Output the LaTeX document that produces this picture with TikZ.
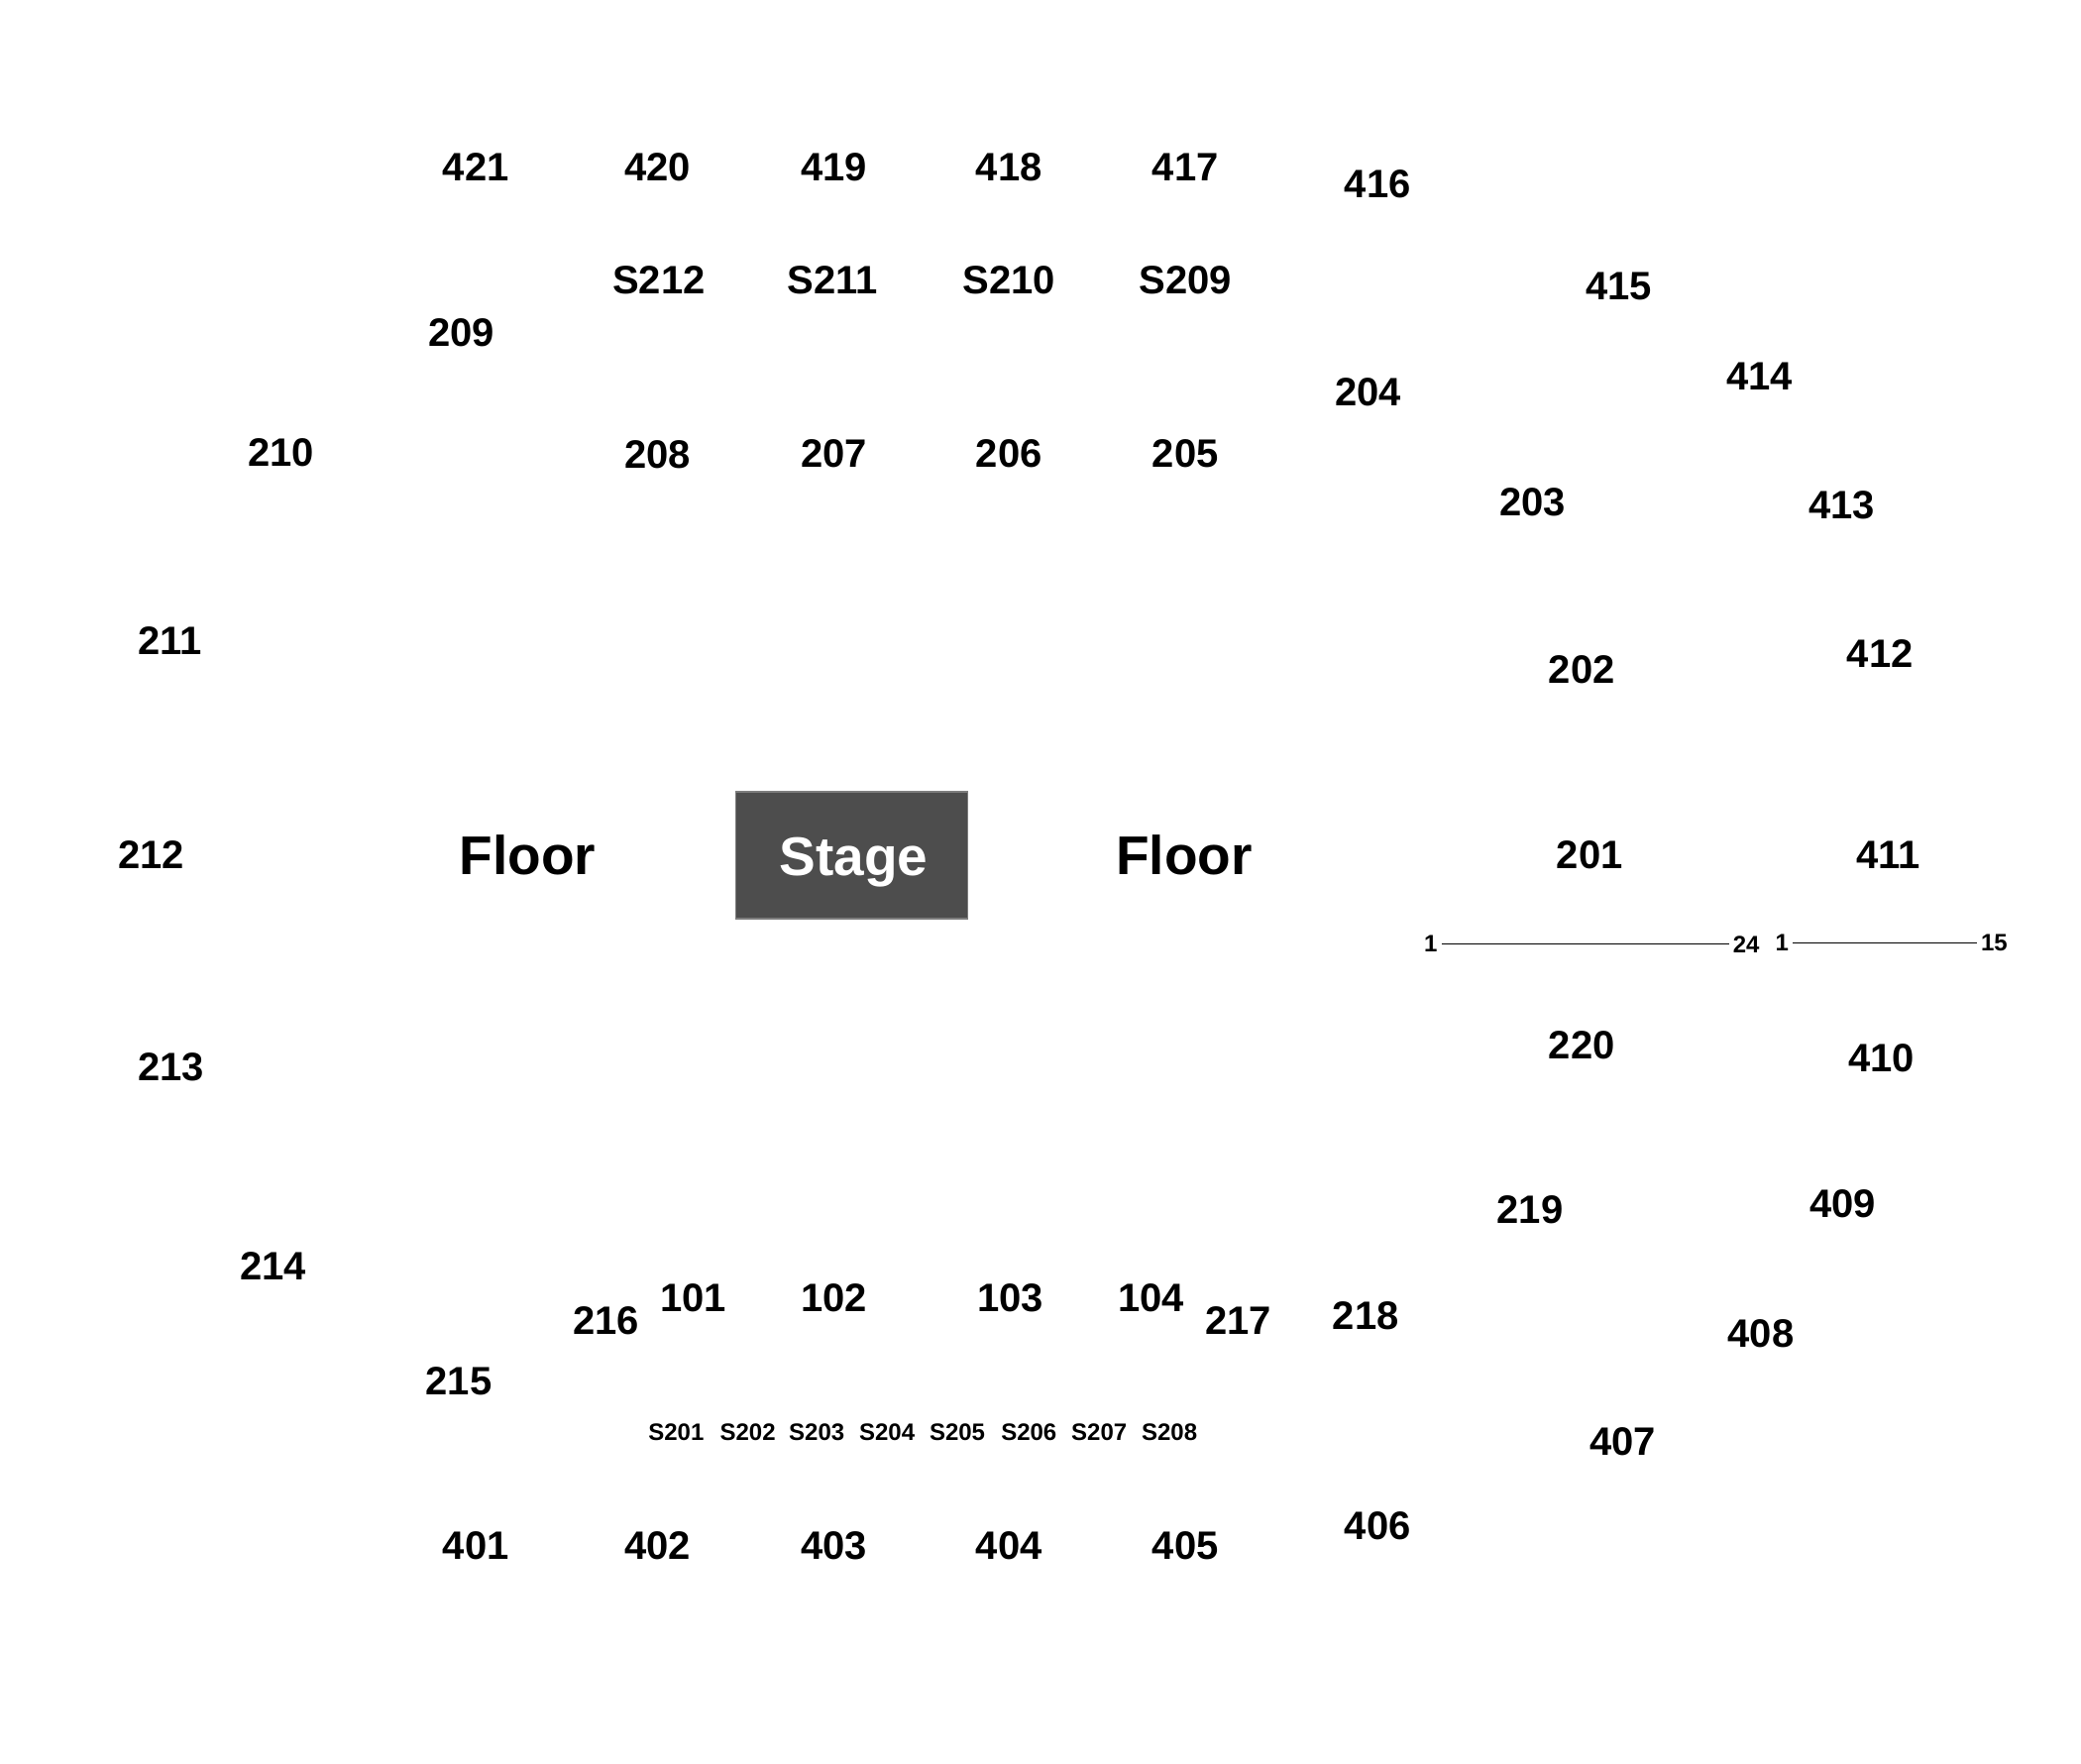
\documentclass[tikz,border=0pt]{standalone}
\usepackage{fontspec}
\setmainfont{Liberation Sans}
\usepackage{tikz}
\definecolor{stage-grey}{RGB}{77, 77, 77}
\definecolor{stage-edge}{RGB}{125, 125, 125}
\tikzset{
	sec/.style={font=\fontsize{40}{48}\selectfont\bfseries, inner sep=0pt},
	suite/.style={font=\fontsize{24}{29}\selectfont\bfseries, inner sep=0pt},
	rowno/.style={font=\fontsize{24}{29}\selectfont\bfseries, inner sep=4pt},
	area/.style={font=\fontsize{55}{66}\selectfont\bfseries, inner sep=0pt},
	stagebox/.style={draw=stage-edge, fill=stage-grey, line width=1.5pt, minimum width=234pt, minimum height=128pt, inner sep=0pt}
}
\begin{document}
\begin{tikzpicture}[x=1.338pt, y=-1.338pt]
\useasboundingbox (0,0) rectangle (1569.5,1330.3);
% upper ring
\node [sec] (sec421) at (359,126) {421};
\node [sec] (sec420) at (496,126) {420};
\node [sec] (sec419) at (629,126) {419};
\node [sec] (sec418) at (761,126) {418};
\node [sec] (sec417) at (894,126) {417};
\node [sec] (sec416) at (1039,139) {416};
\node [sec] (sec415) at (1221,216) {415};
\node [sec] (sec414) at (1327,284) {414};
\node [sec] (sec413) at (1389,381) {413};
\node [sec] (sec412) at (1418,493) {412};
\node [sec] (sec411) at (1424,645) {411};
\node [sec] (sec410) at (1419,798) {410};
\node [sec] (sec409) at (1390,908) {409};
\node [sec] (sec408) at (1328,1006) {408};
\node [sec] (sec407) at (1224,1087) {407};
\node [sec] (sec406) at (1039,1151) {406};
\node [sec] (sec405) at (894,1166) {405};
\node [sec] (sec404) at (761,1166) {404};
\node [sec] (sec403) at (629,1166) {403};
\node [sec] (sec402) at (496,1166) {402};
\node [sec] (sec401) at (359,1166) {401};
% suites
\node [sec] (ste212) at (497,211) {S212};
\node [sec] (ste211) at (628,211) {S211};
\node [sec] (ste210) at (761,211) {S210};
\node [sec] (ste209) at (894,211) {S209};
\node [suite] (ste201) at (510,1080) {S201};
\node [suite] (ste202) at (564,1080) {S202};
\node [suite] (ste203) at (616,1080) {S203};
\node [suite] (ste204) at (669,1080) {S204};
\node [suite] (ste205) at (722,1080) {S205};
\node [suite] (ste206) at (776,1080) {S206};
\node [suite] (ste207) at (829,1080) {S207};
\node [suite] (ste208) at (882,1080) {S208};
% middle ring
\node [sec] (sec209) at (348,251) {209};
\node [sec] (sec210) at (212,341) {210};
\node [sec] (sec211) at (128,483) {211};
\node [sec] (sec212) at (114,645) {212};
\node [sec] (sec213) at (129,805) {213};
\node [sec] (sec214) at (206,955) {214};
\node [sec] (sec215) at (346,1042) {215};
\node [sec] (sec216) at (457,996) {216};
\node [sec] (sec217) at (934,996) {217};
\node [sec] (sec218) at (1030,992) {218};
\node [sec] (sec219) at (1154,912) {219};
\node [sec] (sec220) at (1193,788) {220};
\node [sec] (sec201) at (1199,645) {201};
\node [sec] (sec202) at (1193,505) {202};
\node [sec] (sec203) at (1156,379) {203};
\node [sec] (sec204) at (1032,296) {204};
\node [sec] (sec205) at (894,342) {205};
\node [sec] (sec206) at (761,342) {206};
\node [sec] (sec207) at (629,342) {207};
\node [sec] (sec208) at (496,343) {208};
% lower bowl
\node [sec] (sec101) at (523,979) {101};
\node [sec] (sec102) at (629,979) {102};
\node [sec] (sec103) at (762,979) {103};
\node [sec] (sec104) at (868,979) {104};
% floor and stage
\node [area] (floorL) at (398,645) {Floor};
\node [area] (floorR) at (893,645) {Floor};
\node [stagebox] (stage) at (642.5,645) {};
\node [area, text=white, anchor=base] (stagetext) at (644,660) {Stage};
% row markers
\node [rowno] (rowA1) at (1079,712) {1};
\node [rowno] (rowA24) at (1317,712) {24};
\node [rowno] (rowB1) at (1344,711) {1};
\node [rowno] (rowB15) at (1504,711) {15};
\draw [line width=1.2pt] (rowA1) -- (rowA24);
\draw [line width=1.2pt] (rowB1) -- (rowB15);
\end{tikzpicture}
\end{document}
